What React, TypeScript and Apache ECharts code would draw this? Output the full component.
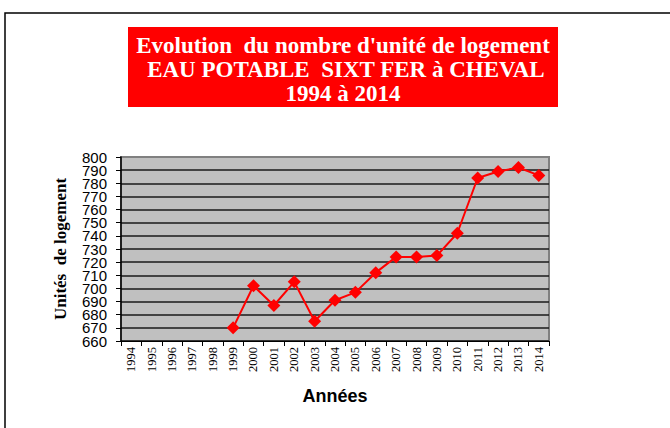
import React, { useEffect, useRef } from "react";
import * as echarts from "echarts";

const years = ["1994","1995","1996","1997","1998","1999","2000","2001","2002","2003","2004","2005","2006","2007","2008","2009","2010","2011","2012","2013","2014"];
const logements: (number | null)[] = [null,null,null,null,null,670,702,687,705,675,691,697,712,724,724,725,742,784,789,792,786];
const yTicks = ["660","670","680","690","700","710","720","730","740","750","760","770","780","790","800"];
const titleLines = [
  "Evolution  du nombre d'unité de logement",
  " EAU POTABLE  SIXT FER à CHEVAL",
  "1994 à 2014",
];
const yTitle = "Unités  de logement";
const xTitle = "Années";

export default function App() {
  const ref = useRef<HTMLDivElement>(null);
  useEffect(() => {
    const chart = echarts.init(ref.current!, null, { renderer: "svg" });
    const gridColors: string[] = [];
    for (let i = 0; i < 15; i++) gridColors.push(i === 14 ? "#808080" : "#1a1a1a");
    chart.setOption({
      animation: false,
      backgroundColor: "#ffffff",
      grid: {
        left: 121, top: 157, right: 121, bottom: 87,
        show: true, backgroundColor: "#c0c0c0", borderColor: "#808080", borderWidth: 2,
      },
      graphic: [
        { type: "rect", shape: { x: 5, y: 13, width: 800, height: 600 }, style: { fill: "none", stroke: "#000", lineWidth: 1.5 }, silent: true },
        { type: "rect", shape: { x: 128, y: 27, width: 430, height: 80 }, style: { fill: "#ff0000" } },
        ...titleLines.map((t, i) => ({
          type: "text", x: 343, y: 45 + i * 24,
          style: { text: t, fill: "#ffffff", font: "bold 23px 'Liberation Serif', 'Times New Roman', serif", textAlign: "center", textVerticalAlign: "middle" },
        })),
      ],
      xAxis: {
        type: "category", data: years, boundaryGap: true,
        name: xTitle, nameLocation: "middle", nameGap: 46,
        nameTextStyle: { fontFamily: "'Liberation Sans', Arial, sans-serif", fontWeight: "bold", fontSize: 18, color: "#000" },
        axisLine: { lineStyle: { color: "#000", width: 1 } },
        axisTick: { show: true, alignWithLabel: false, length: 5, lineStyle: { color: "#000" } },
        axisLabel: { rotate: 90, interval: 0, margin: 6, fontFamily: "'Liberation Serif', 'Times New Roman', serif", fontSize: 12.5, color: "#000" },
        splitLine: { show: false },
      },
      yAxis: [
        {
          type: "value", min: 660, max: 800, interval: 10, position: "left",
          name: yTitle, nameLocation: "middle", nameGap: 52, nameRotate: 90,
          nameTextStyle: { fontFamily: "'Liberation Serif', 'Times New Roman', serif", fontWeight: "bold", fontSize: 17, color: "#000" },
          axisLine: { show: true, lineStyle: { color: "#000", width: 1.5 } },
          axisTick: { show: true, inside: false, length: 5, lineStyle: { color: "#000" } },
          axisLabel: { show: false },
          splitLine: { show: true, lineStyle: { color: gridColors, width: 1.5 } },
        },
        {
          type: "category", data: yTicks, boundaryGap: false, position: "left", offset: 0,
          axisLine: { show: false }, axisTick: { show: false }, splitLine: { show: false },
          axisLabel: {
            show: true, interval: 0, margin: 14, showMinLabel: true, showMaxLabel: true,
            fontFamily: "'Liberation Sans', Arial, sans-serif", fontSize: 15, lineHeight: 12, color: "#000",
          },
        },
      ],
      series: [{
        type: "line", data: logements, connectNulls: false, yAxisIndex: 0,
        symbol: "diamond", symbolSize: 13,
        lineStyle: { color: "#ff0000", width: 2 },
        itemStyle: { color: "#ff0000" },
      }],
    });
    return () => chart.dispose();
  }, []);
  return <div ref={ref} style={{ position: "fixed", left: 0, top: 0, width: 670, height: 428 }} />;
}
